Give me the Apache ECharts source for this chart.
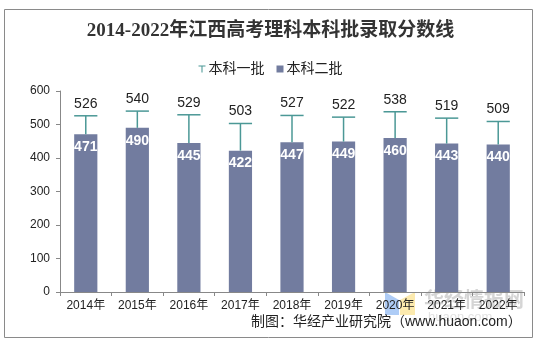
<!DOCTYPE html>
<html><head><meta charset="utf-8">
<script src="https://cdn.jsdelivr.net/npm/echarts@6/dist/echarts.min.js"></script>
<style>html,body{margin:0;padding:0;background:#fff}#c{width:541px;height:347px}</style>
</head><body><div id="c"></div>
<script>
const categories = ['2014年','2015年','2016年','2017年','2018年','2019年','2020年','2021年','2022年'];
const batch1 = [526,540,529,503,527,522,538,519,509];
const batch2 = [471,490,445,422,447,449,460,443,440];
const yTicks = [0,100,200,300,400,500,600];

const chart = echarts.init(document.getElementById('c'));
const teal = '#4b9896';
const slate = '#727c9f';
const font = '"Liberation Sans", Arial, "Noto Sans CJK SC", sans-serif';

chart.setOption({
  animation: false,
  backgroundColor: '#fff',
  title: {
    text: '2014-2022年江西高考理科本科批录取分数线',
    left: 'center', top: 17,
    textStyle: {fontFamily: '"Liberation Serif", "Noto Sans CJK SC", serif', fontSize: 19, fontWeight: 'bold', color: '#333'}
  },
  legend: {
    top: 57, left: 'center', itemGap: 12, itemWidth: 7, itemHeight: 7,
    textStyle: {fontFamily: font, fontSize: 14, color: '#222', padding: [0,0,0,-2]},
    data: [
      {name: '本科一批', icon: 'path://M0,0 L10,0 L10,1.5 L5.75,1.5 L5.75,10 L4.25,10 L4.25,1.5 L0,1.5 Z', itemStyle: {color: teal}},
      {name: '本科二批', icon: 'rect', itemStyle: {color: slate}}
    ]
  },
  grid: {left: 60, right: 17, top: 91, bottom: 55, containLabel: false},
  xAxis: {
    type: 'category', data: categories, boundaryGap: true,
    axisLine: {lineStyle: {color: '#888'}},
    axisTick: {show: true, interval: 0, length: 4, lineStyle: {color: '#888'}},
    axisLabel: {interval: 0, fontFamily: font, fontSize: 12, color: '#222', margin: 8}
  },
  yAxis: {
    type: 'value', min: yTicks[0], max: yTicks[yTicks.length-1], interval: 100,
    axisLine: {show: true, lineStyle: {color: '#888'}},
    axisTick: {show: true, inside: false, length: 4, lineStyle: {color: '#888'}},
    splitLine: {show: false},
    axisLabel: {fontFamily: font, fontSize: 12, color: '#222', margin: 10}
  },
  series: [
    {
      name: '本科二批', type: 'bar', data: batch2, barWidth: '45%', z: 2,
      itemStyle: {color: slate},
      label: {show: true, position: 'insideTop', distance: 6, color: '#fff', fontFamily: font, fontSize: 14, fontWeight: 'bold', textBorderWidth: 0}
    },
    {
      name: '本科一批', type: 'custom', z: 3,
      data: batch1.map((v, i) => [i, batch2[i], v]),
      renderItem: function (params, api) {
        const i = api.value(0);
        const low = api.coord([i, api.value(1)]);
        const high = api.coord([i, api.value(2)]);
        const half = api.size([1, 0])[0] * 0.45 / 2;
        const st = {stroke: teal, lineWidth: 1.5};
        return {
          type: 'group',
          children: [
            {type: 'line', shape: {x1: high[0], y1: high[1], x2: low[0], y2: low[1]}, style: st},
            {type: 'line', shape: {x1: high[0]-half, y1: high[1], x2: high[0]+half, y2: high[1]}, style: st},
            {type: 'text', style: {text: String(api.value(2)), x: high[0], y: high[1]-12, textAlign: 'center', textVerticalAlign: 'middle', fill: '#222', font: '14px ' + font}}
          ]
        };
      },
      itemStyle: {color: teal}
    }
  ],
  graphic: [
    {type: 'rect', shape: {x: 4.5, y: 9.5, width: 528, height: 328}, style: {fill: 'none', stroke: '#8a8a8a', lineWidth: 1}, silent: true, z: -1},
    {type: 'polygon', shape: {points: [[385,292],[399,300],[399,315],[385,315]]}, style: {fill: 'rgba(120,170,240,0.6)'}, z: 0},
    {type: 'polygon', shape: {points: [[400,300],[415,292],[415,315],[400,315]]}, style: {fill: 'rgba(250,220,120,0.6)'}, z: 0},
    {type: 'text', left: 424, top: 289, style: {text: '华经情报网', fill: 'rgba(185,185,185,0.6)', font: 'bold 20px "Noto Sans CJK SC"'}, z: 0},
    {type: 'text', left: 428, top: 311, style: {text: 'huaon.com', fill: 'rgba(200,200,200,0.5)', font: '13px ' + font}, z: 0},
    {type: 'text', left: 251, top: 315, style: {text: '制图：华经产业研究院（www.huaon.com）', fill: '#222', font: '14px ' + font}, z: 5}
  ]
});
</script>
</body></html>
